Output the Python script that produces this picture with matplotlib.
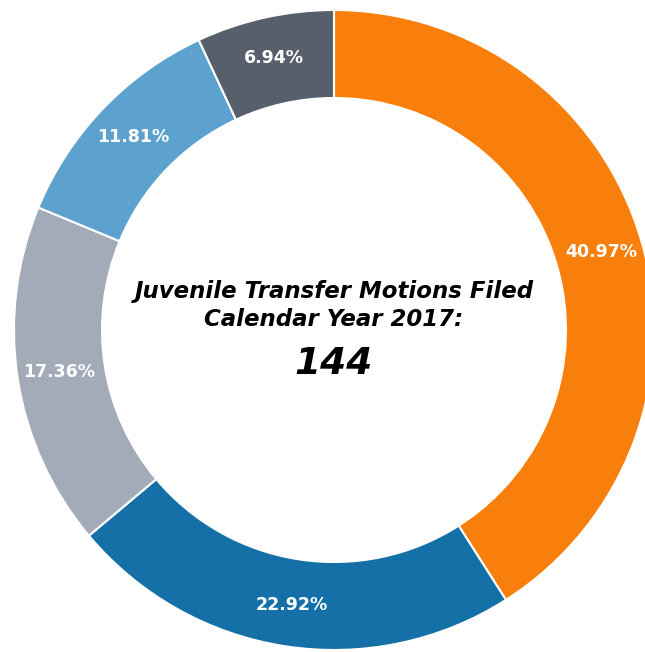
import numpy as np
import matplotlib.pyplot as plt

# Mociones de transferencia juvenil, año calendario 2017
counts = [59, 33, 25, 17, 10]
percent_labels = ["40.97%", "22.92%", "17.36%", "11.81%", "6.94%"]
colors = ["#F97F0C", "#1570A8", "#A3AAB8", "#5DA2CE", "#575F6D"]
total = 144

fig = plt.figure(figsize=(6.45, 6.52), dpi=100)
# eixo maior que a figura: o anel fica cortado na direita
ax = fig.add_axes([14 / 645, 2 / 652, 640 / 645, 640 / 652])

wedges, _ = ax.pie(counts, colors=colors, startangle=90, counterclock=False,
                   radius=1.0,
                   wedgeprops=dict(width=0.275, edgecolor="white", linewidth=1.5))

# rótulos de porcentagem no meio do anel
for w, lab in zip(wedges, percent_labels):
    ang = np.deg2rad((w.theta1 + w.theta2) / 2)
    r = 0.87
    ax.text(r * np.cos(ang), r * np.sin(ang), lab, ha="center", va="center",
            color="white", fontsize=12.5, fontweight="bold")

ax.text(0, 0.12, "Juvenile Transfer Motions Filed", ha="center", va="center",
        fontsize=16.5, fontweight="bold", style="italic", color="black")
ax.text(0, 0.032, "Calendar Year 2017:", ha="center", va="center",
        fontsize=16.5, fontweight="bold", style="italic", color="black")
ax.text(0, -0.105, str(total), ha="center", va="center",
        fontsize=27, fontweight="bold", style="italic", color="black")

ax.set_xlim(-1, 1)
ax.set_ylim(-1, 1)
ax.set_aspect("equal")
ax.axis("off")

fig.savefig("out.png", dpi=100)
